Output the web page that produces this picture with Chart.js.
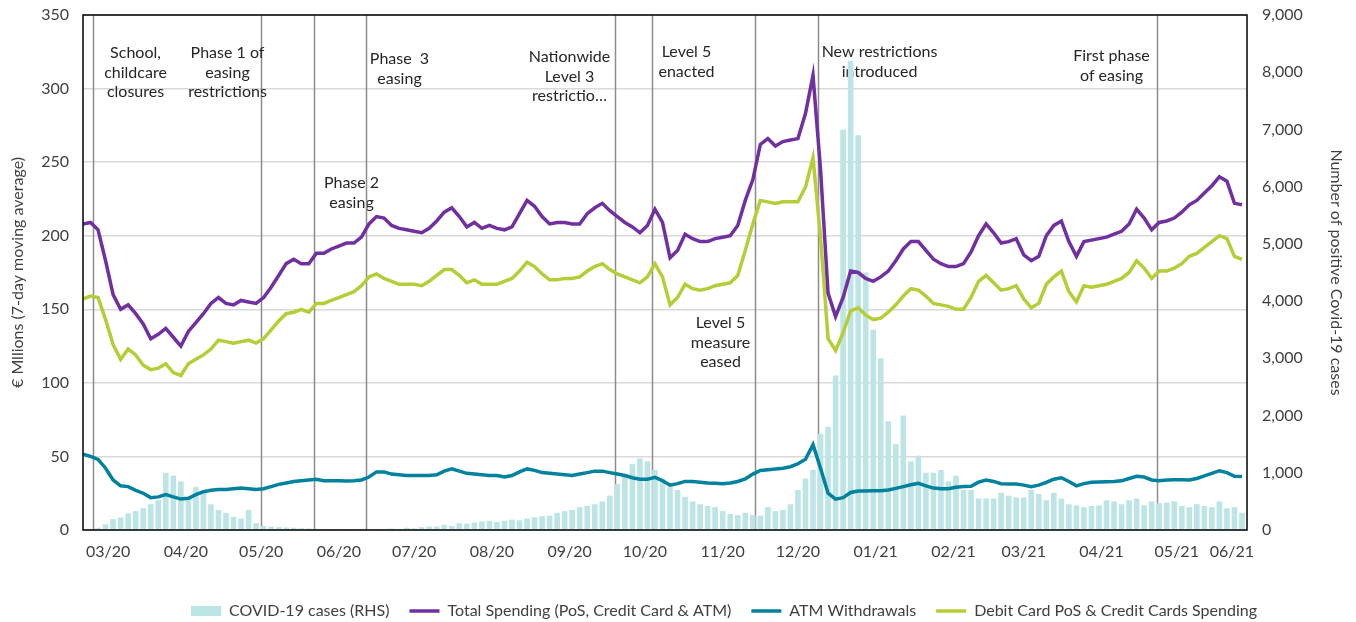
<!DOCTYPE html>
<html>
<head>
<meta charset="utf-8">
<script src="https://cdn.jsdelivr.net/npm/chart.js@4.4.1/dist/chart.umd.min.js"></script>
<style>
  html, body { margin: 0; padding: 0; background: #fff; }
  #wrap { position: relative; width: 1356px; height: 622px; }
</style>
</head>
<body>
<div id="wrap"><canvas id="chart"></canvas></div>
<script>
// day 0 is 8 March 2020, values read every 3 days
var startDate = Date.UTC(2020, 2, 8);
var sampleStep = 3;
var lastDay = 464;

var totalSpending = [
  208, 209, 204, 183, 160, 150, 153, 147, 140, 130,
  133, 137, 131, 125, 135, 141, 147, 154, 158, 154,
  153, 156, 155, 154, 158, 165, 173, 181, 184, 181,
  181, 188, 188, 191, 193, 195, 195, 199, 208, 213,
  212, 207, 205, 204, 203, 202, 205, 210, 216, 219,
  213, 206, 209, 205, 207, 205, 204, 206, 215, 224,
  220, 213, 208, 209, 209, 208, 208, 215, 219, 222,
  217, 213, 209, 206, 202, 207, 218, 209, 185, 190,
  201, 198, 196, 196, 198, 199, 200, 207, 224, 238,
  262, 266, 261, 264, 265, 266, 283, 309, 245, 161,
  145, 158, 176, 175, 171, 169, 172, 176, 183, 191,
  196, 196, 190, 184, 181, 179, 179, 181, 189, 200,
  208, 202, 195, 196, 198, 187, 183, 186, 200, 207,
  210, 196, 186, 196, 197, 198, 199, 201, 203, 208,
  218, 212, 204, 209, 210, 212, 216, 221, 224, 229,
  234, 240, 237, 222, 221
];

var debitCreditSpending = [
  157, 159, 158, 143, 126, 116, 123, 119, 112, 109,
  110, 113, 107, 105, 113, 116, 119, 123, 129, 128,
  127, 128, 129, 127, 130, 136, 142, 147, 148, 150,
  148, 154, 154, 156, 158, 160, 162, 166, 172, 174,
  171, 169, 167, 167, 167, 166, 169, 173, 177, 177,
  173, 168, 170, 167, 167, 167, 169, 171, 176, 182,
  179, 174, 170, 170, 171, 171, 172, 176, 179, 181,
  177, 174, 172, 170, 168, 172, 181, 172, 153, 158,
  167, 164, 163, 164, 166, 167, 168, 173, 190, 208,
  224, 223, 222, 223, 223, 223, 233, 253, 199, 130,
  122, 134, 149, 151, 146, 143, 144, 148, 153, 159,
  164, 163, 159, 154, 153, 152, 150, 150, 158, 169,
  173, 168, 163, 164, 166, 157, 151, 154, 167, 172,
  176, 162, 155, 166, 165, 166, 167, 169, 171, 175,
  183, 178, 171, 176, 176, 178, 181, 186, 188, 192,
  196, 200, 198, 186, 184
];

var atmWithdrawals = [
  51.5, 50, 48, 42, 34, 30, 29.5, 27, 25, 22,
  22.5, 24, 22.5, 21, 21.5, 24, 26, 27, 27.5, 27.5,
  28, 28.5, 28, 27.5, 28, 29.5, 31, 32, 33, 33.5,
  34, 34.5, 33.5, 33.5, 33.5, 33.3, 33.5, 34, 36, 39.5,
  39.5, 38, 37.5, 37, 37, 37, 37, 37.5, 40, 41.5,
  40, 38.5, 38, 37.5, 37, 37, 36, 37, 39.5, 41.5,
  40.5, 39, 38.5, 38, 37.5, 37, 38, 39, 40, 40,
  39, 38, 37, 35.5, 34.5, 34.5, 35.8, 33.5, 30.5, 31.5,
  33, 33, 32.5, 32, 31.7, 31.5, 32, 33, 34.7, 38,
  40.5, 41, 41.5, 42, 43, 45, 48, 58, 42, 25,
  21, 22, 25.5, 26.5, 26.5, 26.7, 26.7, 27.2, 28.3, 29.5,
  30.8, 31.7, 30, 28.5, 28, 28, 29, 29.5, 29.7, 32.5,
  34, 33, 31.5, 31.3, 31.3, 30.5, 29.5, 30.5, 32.3, 34.5,
  35.5, 33, 30, 31.5, 32.4, 32.6, 32.8, 33, 33.4, 35,
  36.5, 36, 34, 33.5, 34, 34.2, 34.2, 34, 35, 36.8,
  38.5, 40.3, 39, 36.5, 36.3
];

var covidCases = [
  10, 20, 40, 100, 190, 220, 290, 330, 380, 450,
  520, 1000, 950, 850, 560, 750, 650, 450, 350, 300,
  230, 200, 350, 120, 70, 60, 50, 45, 40, 30,
  25, 20, 15, 12, 10, 12, 10, 12, 15, 20,
  20, 25, 20, 40, 30, 50, 60, 60, 90, 70,
  120, 110, 130, 150, 160, 140, 160, 180, 170, 200,
  220, 240, 250, 300, 330, 350, 400, 420, 450, 500,
  600, 800, 950, 1150, 1250, 1200, 1050, 900, 750, 700,
  580, 500, 450, 420, 400, 330, 280, 260, 300, 260,
  250, 400, 330, 350, 450, 700, 900, 1050, 1680, 1800,
  2700, 7000, 8200, 6900, 4500, 3500, 3000, 1900, 1500, 2000,
  1200, 1300, 1000, 1000, 1050, 850, 950, 700, 700, 550,
  550, 550, 650, 600, 570, 570, 700, 630, 520, 650,
  550, 450, 430, 400, 420, 430, 520, 500, 450, 520,
  550, 430, 500, 470, 480, 500, 420, 400, 450, 420,
  400, 500, 380, 400, 300
];

var monthLabels = ['03/20', '04/20', '05/20', '06/20', '07/20', '08/20', '09/20', '10/20',
  '11/20', '12/20', '01/21', '02/21', '03/21', '04/21', '05/21', '06/21'];

var eventDates = ['2020-03-12', '2020-05-18', '2020-06-08', '2020-06-29', '2020-10-06',
  '2020-10-21', '2020-12-01', '2020-12-26', '2021-05-10'];
var eventLabels = [
  ['School,', 'childcare', 'closures'],
  ['Phase 1 of', 'easing', 'restrictions'],
  ['Phase 2', 'easing'],
  ['Phase  3', 'easing'],
  ['Nationwide', 'Level 3', 'restrictio\u2026'],
  ['Level 5', 'enacted'],
  ['Level 5', 'measure', 'eased'],
  ['New restrictions', 'introduced'],
  ['First phase', 'of easing']
];
// where each note sits: px offset from its line, px from the top of the canvas
var noteLayout = [
  { dx: 42, y: 53 }, { dx: -34, y: 53 }, { dx: 37, y: 183 }, { dx: 33, y: 59 },
  { dx: -46, y: 57 }, { dx: 34, y: 52 }, { dx: -35, y: 323 }, { dx: 61, y: 52 },
  { dx: -46, y: 56 }
];

var dayMs = 86400000;
var days = totalSpending.map(function (v, i) { return i * sampleStep; });
var eventDays = eventDates.map(function (s) { return (Date.parse(s) - startDate) / dayMs; });
var tickDays = monthLabels.map(function (m) {
  var mm = parseInt(m.slice(0, 2), 10), yy = 2000 + parseInt(m.slice(3), 10);
  var d = (Date.UTC(yy, mm - 1, 18) - startDate) / dayMs;
  return Math.min(d, lastDay - 6);
});

function points(arr) {
  return arr.map(function (v, i) { return { x: days[i], y: v }; });
}

var fontFamily = 'Lato, "Open Sans", sans-serif';
var textColor = '#404040';

function noEdgePadding(scale) {
  scale.paddingTop = 0;
  scale.paddingBottom = 0;
}

var eventsPlugin = {
  id: 'events',
  afterLayout: function (chart) {
    // legend sits a little lower and right of centre in the original
    var lg = chart.legend;
    lg.top += 7; lg.bottom += 7;
    lg.left += 46; lg.right += 46;
  },
  beforeDatasetsDraw: function (chart) {
    var ctx = chart.ctx, area = chart.chartArea, xs = chart.scales.x;
    ctx.save();
    ctx.strokeStyle = '#8c8c8c';
    ctx.lineWidth = 1.5;
    ctx.font = '16px ' + fontFamily;
    ctx.fillStyle = '#262626';
    ctx.textAlign = 'center';
    ctx.textBaseline = 'middle';
    eventDays.forEach(function (d, i) {
      var x = Math.round(xs.getPixelForValue(d)) + 0.5;
      ctx.beginPath();
      ctx.moveTo(x, area.top);
      ctx.lineTo(x, area.bottom);
      ctx.stroke();
      eventLabels[i].forEach(function (line, k) {
        ctx.fillText(line, x + noteLayout[i].dx, noteLayout[i].y + k * 19.5);
      });
    });
    ctx.restore();
  },
  afterDraw: function (chart) {
    var ctx = chart.ctx, a = chart.chartArea;
    ctx.save();
    ctx.strokeStyle = '#000';
    ctx.lineWidth = 1.5;
    ctx.strokeRect(a.left, a.top, a.right - a.left, a.bottom - a.top);
    ctx.restore();
  }
};

new Chart(document.getElementById('chart'), {
  data: {
    datasets: [{
      type: 'bar',
      label: 'COVID-19 cases (RHS)',
      data: points(covidCases),
      yAxisID: 'y2',
      backgroundColor: '#BDE5E5',
      borderWidth: 0,
      barPercentage: 1,
      categoryPercentage: 0.75,
      pointStyle: 'rect',
      order: 10
    }, {
      type: 'line',
      label: 'Total Spending (PoS, Credit Card & ATM)',
      data: points(totalSpending),
      yAxisID: 'y',
      borderColor: '#7030A0',
      backgroundColor: '#7030A0',
      borderWidth: 3.5,
      pointRadius: 0,
      pointStyle: 'line',
      tension: 0,
      order: 1
    }, {
      type: 'line',
      label: 'ATM Withdrawals',
      data: points(atmWithdrawals),
      yAxisID: 'y',
      borderColor: '#00829E',
      backgroundColor: '#00829E',
      borderWidth: 3.5,
      pointRadius: 0,
      pointStyle: 'line',
      tension: 0,
      order: 2
    }, {
      type: 'line',
      label: 'Debit Card PoS & Credit Cards Spending',
      data: points(debitCreditSpending),
      yAxisID: 'y',
      borderColor: '#B5CD36',
      backgroundColor: '#B5CD36',
      borderWidth: 3.5,
      pointRadius: 0,
      pointStyle: 'line',
      tension: 0,
      order: 3
    }]
  },
  options: {
    responsive: true,
    maintainAspectRatio: false,
    animation: false,
    layout: { padding: { top: 15, left: 0, right: 0, bottom: 0 } },
    plugins: {
      legend: {
        position: 'bottom',
        labels: {
          usePointStyle: true,
          pointStyleWidth: 30,
          boxHeight: 10,
          padding: 20,
          color: textColor,
          font: { family: fontFamily, size: 16 },
          sort: function (a, b) { return a.datasetIndex - b.datasetIndex; }
        }
      },
      tooltip: { enabled: false }
    },
    scales: {
      x: {
        type: 'linear',
        min: 0,
        max: lastDay,
        offset: false,
        grid: { display: false, drawTicks: false, offset: false },
        border: { display: false },
        afterBuildTicks: function (scale) {
          scale.ticks = tickDays.map(function (d) { return { value: d }; });
        },
        afterFit: function (scale) { scale.height = 46; },
        ticks: {
          autoSkip: false,
          maxRotation: 0,
          padding: 12,
          color: textColor,
          font: { family: fontFamily, size: 16 },
          callback: function (v, i) { return monthLabels[i]; }
        }
      },
      y: {
        position: 'left',
        min: 0,
        max: 350,
        grid: { color: '#D9D9D9', lineWidth: 1.5, drawTicks: false },
        border: { display: false },
        afterFit: function (scale) { scale.width = 83; noEdgePadding(scale); },
        ticks: {
          stepSize: 50,
          padding: 14,
          color: textColor,
          font: { family: fontFamily, size: 16 }
        },
        title: {
          display: true,
          text: '\u20ac Mllions (7-day moving average)',
          color: textColor,
          padding: { top: 8, bottom: 4 },
          font: { family: fontFamily, size: 16 }
        }
      },
      y2: {
        position: 'right',
        min: 0,
        max: 9000,
        grid: { drawOnChartArea: false, drawTicks: false },
        border: { display: false },
        afterFit: function (scale) { scale.width = 109; noEdgePadding(scale); },
        ticks: {
          stepSize: 1000,
          padding: 15,
          color: textColor,
          font: { family: fontFamily, size: 16 },
          callback: function (v) { return v.toLocaleString('en-US'); }
        },
        title: {
          display: true,
          text: 'Number of positive Covid-19 cases',
          color: textColor,
          padding: { top: 10, bottom: 4 },
          font: { family: fontFamily, size: 16 }
        }
      }
    }
  },
  plugins: [eventsPlugin]
});
</script>
</body>
</html>
